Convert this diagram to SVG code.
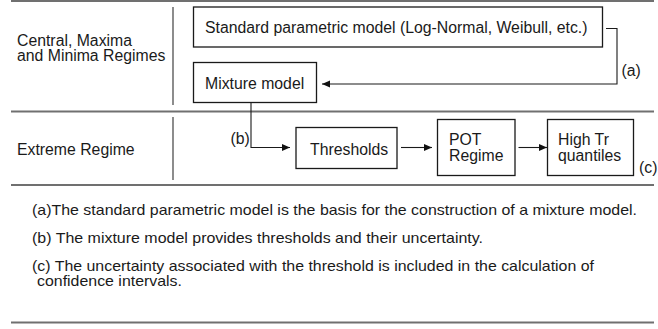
<svg xmlns="http://www.w3.org/2000/svg" width="658" height="329" viewBox="0 0 658 329">
  <defs>
    <marker id="arrow" viewBox="0 0 8 8" refX="8" refY="4" markerWidth="8" markerHeight="8" markerUnits="userSpaceOnUse" orient="auto">
      <path d="M0,0.5 L8,4 L0,7.5 Z" fill="#111"/>
    </marker>
  </defs>
  <style>
    text { font-family: "Liberation Sans", Arial, sans-serif; fill: #1a1a1a; }
    .lbl { font-size: 15.8px; }
    .note { font-size: 14.6px; }
    .rule { stroke: #707070; stroke-width: 2; fill: none; }
    .div { stroke: #707070; stroke-width: 1.6; fill: none; }
    .box { fill: #fff; stroke: #1a1a1a; stroke-width: 1.3; }
    .conn { stroke: #1a1a1a; stroke-width: 1.1; fill: none; }
  </style>
  <rect width="658" height="329" fill="#fff"/>

  <!-- table rules -->
  <g id="rules">
    <line class="rule" x1="11" y1="1" x2="654" y2="1"/>
    <line class="rule" x1="11" y1="111.5" x2="654" y2="111.5"/>
    <line class="rule" x1="11" y1="185" x2="654" y2="185"/>
    <line class="rule" x1="11" y1="322.5" x2="654" y2="322.5"/>
    <line class="div" x1="173" y1="7" x2="173" y2="105"/>
    <line class="div" x1="173" y1="117" x2="173" y2="180"/>
  </g>

  <!-- row headings -->
  <g id="row-central">
    <text class="lbl" x="17" y="45.5">Central, Maxima</text>
    <text class="lbl" x="17" y="61">and Minima Regimes</text>
  </g>
  <g id="row-extreme">
    <text class="lbl" x="17" y="155">Extreme Regime</text>
  </g>

  <!-- nodes -->
  <g id="standard-model">
    <rect class="box" x="193.5" y="7" width="409" height="40"/>
    <text class="lbl" x="205" y="32.5">Standard parametric model (Log-Normal, Weibull, etc.)</text>
  </g>
  <g id="mixture-model">
    <rect class="box" x="193.5" y="62.5" width="123" height="40"/>
    <text class="lbl" x="205" y="89">Mixture model</text>
  </g>
  <g id="thresholds">
    <rect class="box" x="296" y="127.5" width="101" height="41"/>
    <text class="lbl" x="310" y="155">Thresholds</text>
  </g>
  <g id="pot-regime">
    <rect class="box" x="437.5" y="119.5" width="77.5" height="56"/>
    <text class="lbl" x="449" y="145">POT</text>
    <text class="lbl" x="449" y="161">Regime</text>
  </g>
  <g id="high-tr-quantiles">
    <rect class="box" x="547.5" y="119.5" width="86" height="56"/>
    <text class="lbl" x="558" y="145">High Tr</text>
    <text class="lbl" x="558" y="161">quantiles</text>
  </g>

  <!-- connectors -->
  <g id="connectors">
    <polyline class="conn" points="606,28.5 617,28.5 617,84 322,84" marker-end="url(#arrow)"/>
    <polyline class="conn" points="251,103 251,147.5 290,147.5" marker-end="url(#arrow)"/>
    <line class="conn" x1="401" y1="147.5" x2="432" y2="147.5" marker-end="url(#arrow)"/>
    <line class="conn" x1="518.5" y1="147.5" x2="547" y2="147.5" marker-end="url(#arrow)"/>
    <text class="lbl" x="621.5" y="76">(a)</text>
    <text class="lbl" x="230.5" y="144">(b)</text>
    <text class="lbl" x="639" y="172.5">(c)</text>
  </g>

  <!-- notes -->
  <g id="notes">
    <text class="note" x="32" y="215" textLength="605" lengthAdjust="spacingAndGlyphs">(a)The standard parametric model is the basis for the construction of a mixture model.</text>
    <text class="note" x="32" y="243" textLength="451" lengthAdjust="spacingAndGlyphs">(b) The mixture model provides thresholds and their uncertainty.</text>
    <text class="note" x="32" y="271" textLength="562" lengthAdjust="spacingAndGlyphs">(c) The uncertainty associated with the threshold is included in the calculation of</text>
    <text class="note" x="37" y="285.5" textLength="145" lengthAdjust="spacingAndGlyphs">confidence intervals.</text>
  </g>
</svg>
